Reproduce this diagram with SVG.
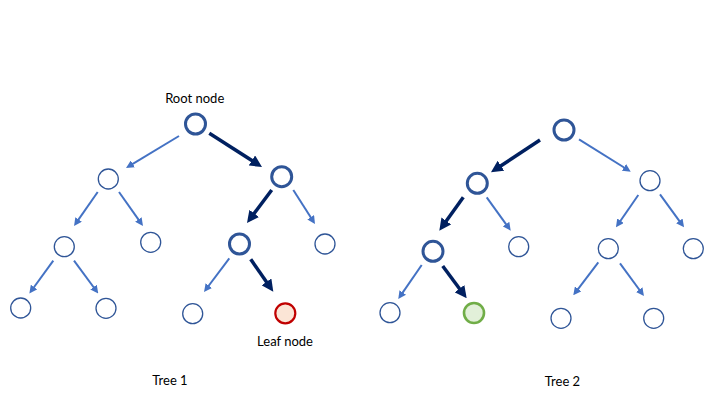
<svg xmlns="http://www.w3.org/2000/svg" width="720" height="405" viewBox="0 0 720 405">
<style>
.n{fill:#fff;stroke:#2F5597;stroke-width:1.3}
.nb{fill:#fff;stroke:#2F5597;stroke-width:3}
.leafr{fill:#FBE5D6;stroke:#C00000;stroke-width:2.2}
.leafg{fill:#E2F0D9;stroke:#70AD47;stroke-width:2.6}
.e{stroke:#4472C4;stroke-width:2;fill:none;marker-end:url(#ah)}
.eb{stroke:#002060;stroke-width:3.5;fill:none;marker-end:url(#ahb)}
text{font-family:Lato,"Liberation Sans",sans-serif;font-size:13px;fill:#000;text-anchor:middle}
</style>
<defs>
<marker id="ah" markerUnits="userSpaceOnUse" viewBox="0 0 8 8" refX="3" refY="4" markerWidth="8" markerHeight="8" orient="auto"><path d="M0,0 L8,4 L0,8 z" fill="#4472C4"/></marker>
<marker id="ahb" markerUnits="userSpaceOnUse" viewBox="0 0 12 12" refX="5" refY="6" markerWidth="12" markerHeight="12" orient="auto"><path d="M0,0 L12,6 L0,12 z" fill="#002060"/></marker>
</defs>
<rect width="720" height="405" fill="#fff"/>
<g id="connectors">
<line class="e" x1="179" y1="136" x2="130.3" y2="165.4"/>
<line class="e" x1="97.7" y1="192" x2="76.9" y2="221.9"/>
<line class="e" x1="119" y1="192" x2="140.1" y2="221.9"/>
<line class="e" x1="293.3" y1="190" x2="312.3" y2="219.8"/>
<line class="e" x1="53.3" y1="260.7" x2="32.3" y2="289.5"/>
<line class="e" x1="74" y1="260.7" x2="95.3" y2="289.5"/>
<line class="e" x1="229.3" y1="258.3" x2="207" y2="288"/>
<line class="eb" x1="209.3" y1="133.3" x2="256.1" y2="163.2"/>
<line class="eb" x1="271.7" y1="190" x2="251.2" y2="217.4"/>
<line class="eb" x1="250.7" y1="259.3" x2="269.3" y2="286"/>
<line class="eb" x1="540" y1="140" x2="496.8" y2="168.5"/>
<line class="eb" x1="463.3" y1="197.3" x2="443.4" y2="225"/>
<line class="eb" x1="442.7" y1="266" x2="462.5" y2="292.7"/>
<line class="e" x1="579" y1="139.3" x2="626.5" y2="169"/>
<line class="e" x1="486.7" y1="197.3" x2="507.8" y2="226.6"/>
<line class="e" x1="638.3" y1="195" x2="618.8" y2="223.2"/>
<line class="e" x1="660" y1="194.3" x2="681.1" y2="223.3"/>
<line class="e" x1="421.7" y1="265" x2="401.1" y2="294.9"/>
<line class="e" x1="598.3" y1="262.3" x2="576.3" y2="291.3"/>
<line class="e" x1="620" y1="263.3" x2="641" y2="292"/>
</g>
<g id="t1-root"><circle class="nb" cx="195.5" cy="124" r="10"/></g>
<g id="t1-a"><circle class="n" cx="108.3" cy="179" r="10"/></g>
<g id="t1-b"><circle class="nb" cx="281.7" cy="176.7" r="10"/></g>
<g id="t1-al"><circle class="n" cx="64.3" cy="246.7" r="10"/></g>
<g id="t1-ar"><circle class="n" cx="150.7" cy="242.3" r="10"/></g>
<g id="t1-bl"><circle class="nb" cx="239.5" cy="244" r="10"/></g>
<g id="t1-br"><circle class="n" cx="325" cy="244" r="10"/></g>
<g id="t1-all"><circle class="n" cx="20.7" cy="308" r="10"/></g>
<g id="t1-alr"><circle class="n" cx="106" cy="308.3" r="10"/></g>
<g id="t1-bll"><circle class="n" cx="192.7" cy="313.7" r="10"/></g>
<g id="t1-leaf"><circle class="leafr" cx="285.3" cy="313.3" r="10"/></g>
<g id="t2-root"><circle class="nb" cx="564" cy="130" r="10"/></g>
<g id="t2-l"><circle class="nb" cx="477.3" cy="183.3" r="10"/></g>
<g id="t2-r"><circle class="n" cx="650" cy="180.7" r="10"/></g>
<g id="t2-ll"><circle class="nb" cx="433" cy="251.3" r="10"/></g>
<g id="t2-lr"><circle class="n" cx="518.7" cy="246.7" r="10"/></g>
<g id="t2-rl"><circle class="n" cx="608.3" cy="248.7" r="10"/></g>
<g id="t2-rr"><circle class="n" cx="693.3" cy="248.7" r="10"/></g>
<g id="t2-lll"><circle class="n" cx="390" cy="312.7" r="10"/></g>
<g id="t2-leaf"><circle class="leafg" cx="474" cy="313" r="10"/></g>
<g id="t2-rll"><circle class="n" cx="561" cy="318.3" r="10"/></g>
<g id="t2-rlr"><circle class="n" cx="653.7" cy="318.3" r="10"/></g>
<g id="labels">
<text x="194.7" y="102.5">Root node</text>
<text x="285" y="345.5">Leaf node</text>
<text x="170" y="385">Tree 1</text>
<text x="562.5" y="386">Tree 2</text>
</g>
</svg>
